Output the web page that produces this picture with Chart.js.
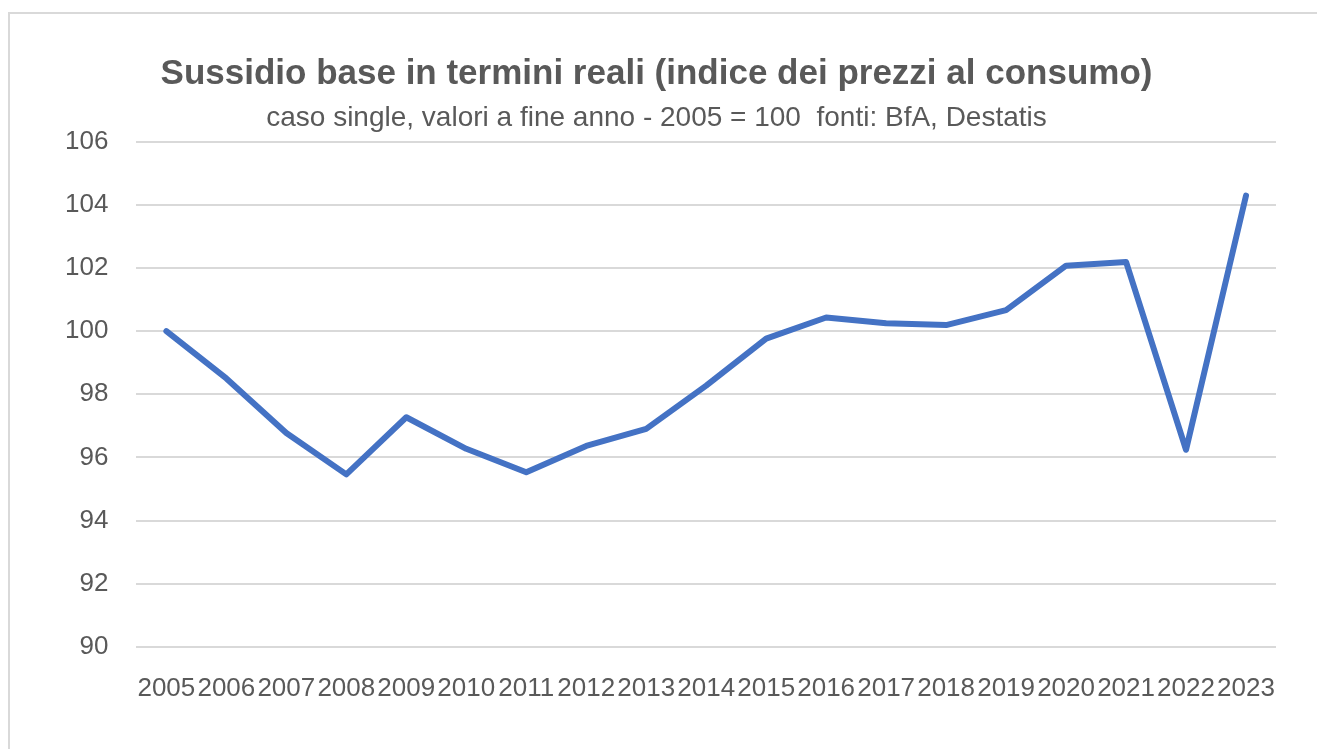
<!DOCTYPE html>
<html>
<head>
<meta charset="utf-8">
<script src="https://cdn.jsdelivr.net/npm/chart.js@4.4.1/dist/chart.umd.min.js"></script>
<style>
    body { margin: 0; background: #fff; }
    #frame {
        position: absolute; left: 8px; top: 12px; right: 0; bottom: 0;
        border-top: 2px solid #d9d9d9; border-left: 2px solid #d9d9d9;
    }
    #wrap { position: absolute; left: 0; top: 0; width: 1317px; height: 749px; }
</style>
</head>
<body>
<div id="frame"></div>
<div id="wrap"><canvas id="chart"></canvas></div>
<script>
const years = ['2005', '2006', '2007', '2008', '2009', '2010', '2011', '2012', '2013', '2014',
    '2015', '2016', '2017', '2018', '2019', '2020', '2021', '2022', '2023'];
const indexValues = [100.0, 98.5, 96.77, 95.46, 97.27, 96.27, 95.53, 96.36, 96.9, 98.27,
    99.76, 100.43, 100.25, 100.19, 100.66, 102.07, 102.19, 96.24, 104.29];
const yTicks = [90, 92, 94, 96, 98, 100, 102, 104, 106];

const grey = '#595959';
const font = '"Liberation Sans", Arial, sans-serif';

new Chart(document.getElementById('chart'), {
    type: 'line',
    data: {
        labels: years,
        datasets: [{
            label: 'Sussidio base',
            data: indexValues,
            borderColor: '#4472c4',
            borderWidth: 6,
            pointRadius: 0,
            tension: 0,
            borderJoinStyle: 'round',
            borderCapStyle: 'round'
        }]
    },
    options: {
        responsive: true,
        maintainAspectRatio: false,
        animation: false,
        layout: { padding: { left: 37, right: 41, top: 30, bottom: 27 } },
        plugins: {
            legend: { display: false },
            tooltip: { enabled: false },
            title: {
                display: true,
                text: 'Sussidio base in termini reali (indice dei prezzi al consumo)',
                color: grey,
                font: { family: font, size: 35, weight: 'bold' },
                padding: { top: 23, bottom: 6 }
            },
            subtitle: {
                display: true,
                text: 'caso single, valori a fine anno - 2005 = 100  fonti: BfA, Destatis',
                color: grey,
                font: { family: font, size: 28 },
                padding: { top: 0, bottom: 7 }
            }
        },
        scales: {
            x: {
                offset: true,
                grid: { display: false },
                border: { display: false },
                ticks: {
                    color: grey,
                    font: { family: font, size: 26 },
                    autoSkip: false,
                    maxRotation: 0,
                    padding: 18
                }
            },
            y: {
                min: 90,
                max: 106,
                afterBuildTicks: axis => { axis.ticks = yTicks.map(v => ({ value: v })); },
                grid: { color: '#d9d9d9', lineWidth: 2, drawTicks: false },
                border: { display: false },
                ticks: {
                    color: grey,
                    font: { family: font, size: 26 },
                    padding: 28
                }
            }
        }
    }
});
</script>
</body>
</html>
